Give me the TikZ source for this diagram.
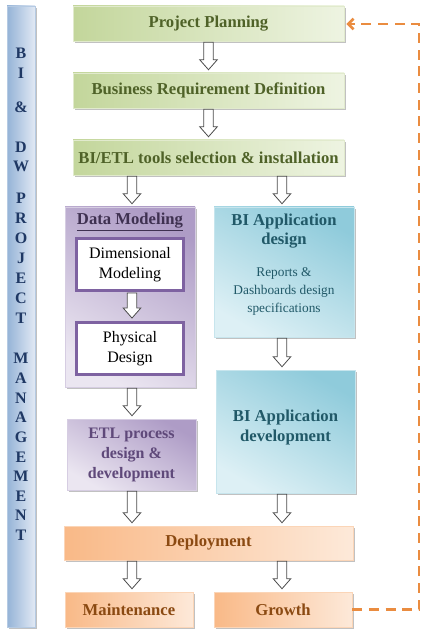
\documentclass[tikz,border=0pt]{standalone}
\usepackage{fontspec}
\setmainfont{Liberation Serif}
\usetikzlibrary{calc,shadows,arrows.meta}
\definecolor{gdark}{HTML}{C3D69B}
\definecolor{glight}{HTML}{EEF4E2}
\definecolor{gtext}{HTML}{4F6228}
\definecolor{pdark}{HTML}{AE9CC6}
\definecolor{plight}{HTML}{EBE6F1}
\definecolor{ptext}{HTML}{5F497A}
\definecolor{ptitle}{HTML}{3F3151}
\definecolor{pborder}{HTML}{7E62A1}
\definecolor{bdark}{HTML}{8FCBDB}
\definecolor{blight}{HTML}{DDF0F5}
\definecolor{btext}{HTML}{215968}
\definecolor{odark}{HTML}{F9B987}
\definecolor{olight}{HTML}{FDE9D9}
\definecolor{otext}{HTML}{8B4A12}
\definecolor{ldark}{HTML}{95B3D7}
\definecolor{llight}{HTML}{E1E9F4}
\definecolor{ltext}{HTML}{1F3864}
\definecolor{dorange}{HTML}{EA8C40}
\tikzset{
  base/.style={inner sep=0pt, align=center,
    drop shadow={shadow xshift=1.2pt, shadow yshift=-1.2pt, opacity=0.4, fill=black!60}},
  gbox/.style={base, left color=gdark, right color=glight, draw=gdark!50!white,
    font=\bfseries\fontsize{12.5}{14}\selectfont, text=gtext,
    minimum width=203.25pt, minimum height=26.25pt},
  pbox/.style={base, top color=pdark, bottom color=plight, shading angle=-30,
    draw=pdark!50!white, font=\bfseries\fontsize{12}{15}\selectfont, text=ptext},
  bbox/.style={base, top color=bdark, bottom color=blight, shading angle=-30,
    draw=bdark!50!white},
  obox/.style={base, left color=odark, right color=olight, draw=odark!60!white,
    font=\bfseries\fontsize{12.5}{14}\selectfont, text=otext, minimum height=26.25pt},
  wbox/.style={fill=white, draw=pborder, line width=2.2pt, inner sep=0pt, align=center,
    minimum width=80pt, minimum height=39pt, font=\fontsize{12}{15}\selectfont},
  btitle/.style={align=center, font=\bfseries\fontsize{12.5}{14.25}\selectfont, text=btext},
  bsub/.style={align=center, font=\fontsize{10}{13.5}\selectfont, text=btext},
  lbar/.style={inner sep=0pt, left color=ldark, right color=llight, draw=ldark!70!white,
    drop shadow={shadow xshift=1.2pt, shadow yshift=-1.2pt, opacity=0.4, fill=black!60},
    minimum width=21pt, minimum height=465.75pt},
  letter/.style={font=\bfseries\fontsize{12}{14}\selectfont, text=ltext, inner sep=0pt},
  harrow/.style={draw=black!70, fill=white, line width=0.6pt,
    to path={let \p1=(\tikztostart), \p2=(\tikztotarget) in
      (\x1-3.6pt,\y1) -- (\x1-3.6pt,\y2+7.5pt) -- (\x1-6.6pt,\y2+7.5pt) -- (\x1,\y2)
      -- (\x1+6.6pt,\y2+7.5pt) -- (\x1+3.6pt,\y2+7.5pt) -- (\x1+3.6pt,\y1) -- cycle}},
  loop/.style={draw=dorange, line width=2pt, dash pattern=on 7.5pt off 5pt,
    -{Straight Barb[length=4pt,width=8pt]}}
}
\begin{document}
\begin{tikzpicture}[x=0.75pt,y=-0.75pt]
\useasboundingbox (0,0) rectangle (426,634);
\fill[white] (0,0) rectangle (426,634);
% left bar
\node[lbar] (bar) at (21,316.5) {};
\foreach \ch/\yy [count=\i] in {B/53,I/73,{\&}/107,D/147,W/166,P/198,R/218,O/238,J/258,E/278,C/298,T/318,M/358,A/378,N/398,A/417,G/437,E/457,M/476,E/496,N/515,T/535}
  \node[letter] (lt\i) at (21,\yy) {\ch};
% top boxes
\node[gbox] (pp) at (208.5,23.5) {Project Planning};
\node[gbox] (brd) at (208.5,90.5) {Business Requirement Definition};
\node[gbox] (tools) at (208.5,157.5) {BI/ETL tools selection \& installation};
% data modeling
\node[pbox, minimum width=97.5pt, minimum height=135pt] (dm) at (130,297) {};
\node[font=\bfseries\fontsize{12.5}{14}\selectfont, text=ptitle] (dmt) at (130,222) {\underline{Data Modeling}};
\node[wbox] (dim) at (130,264.5) {Dimensional\\Modeling};
\node[wbox] (phy) at (130,348.5) {Physical\\Design};
% ETL
\node[pbox, minimum width=96.75pt, minimum height=53.25pt] (etl) at (131.5,454.5) {ETL process\\design \&\\development};
% BI application design
\node[bbox, minimum width=105pt, minimum height=97.5pt] (bad) at (284,272) {};
\node[btitle] (badt) at (284,231.5) {BI Application\\design};
\node[bsub] (bads) at (284,291) {Reports \&\\Dashboards design\\specifications};
% BI application development
\node[bbox, minimum width=104.25pt, minimum height=92.25pt] (bdev) at (285.5,431.5) {};
\node[btitle, font=\bfseries\fontsize{12.5}{15}\selectfont] (bdevt) at (285.5,427) {BI Application\\development};
% bottom
\node[obox, minimum width=216.75pt, minimum height=25.5pt] (dep) at (208.5,543) {Deployment};
\node[obox, minimum width=96pt] (mnt) at (129,609.5) {Maintenance};
\node[obox, minimum width=103.5pt] (grow) at (283,609.5) {Growth};
% arrows
\draw[harrow] ($(pp.south)+(0,1)$) to ($(brd.north)+(0,-3)$);
\draw[harrow] ($(brd.south)+(0,1)$) to ($(tools.north)+(0,-3)$);
\draw[harrow] ($(tools.south -| dmt)+(2,1)$) to ($(dm.north)+(2,-3)$);
\draw[harrow] ($(tools.south -| bad)+(-2,1)$) to ($(bad.north)+(-2,-3)$);
\draw[harrow] ($(dim.south)+(2,1)$) to ($(phy.north)+(2,-3)$);
\draw[harrow] ($(dm.south)+(2,1)$) to ($(etl.north)+(0.5,-3)$);
\draw[harrow] ($(bad.south)+(-2,1)$) to ($(bdev.north)+(-3.5,-3)$);
\draw[harrow] ($(etl.south)+(0.5,1)$) to ($(etl.south |- dep.north)+(0.5,-3)$);
\draw[harrow] ($(bdev.south)+(-3.5,1)$) to ($(bdev.south |- dep.north)+(-3.5,-3)$);
\draw[harrow] ($(mnt.north |- dep.south)+(3,1)$) to ($(mnt.north)+(3,-3)$);
\draw[harrow] ($(grow.north |- dep.south)+(-1,1)$) to ($(grow.north)+(-1,-3)$);
% feedback loop
\coordinate (rt) at (419,24);
\draw[loop] (grow.east) -| (rt) -- ($(pp.east)+(2,0.5)$);
\end{tikzpicture}
\end{document}
